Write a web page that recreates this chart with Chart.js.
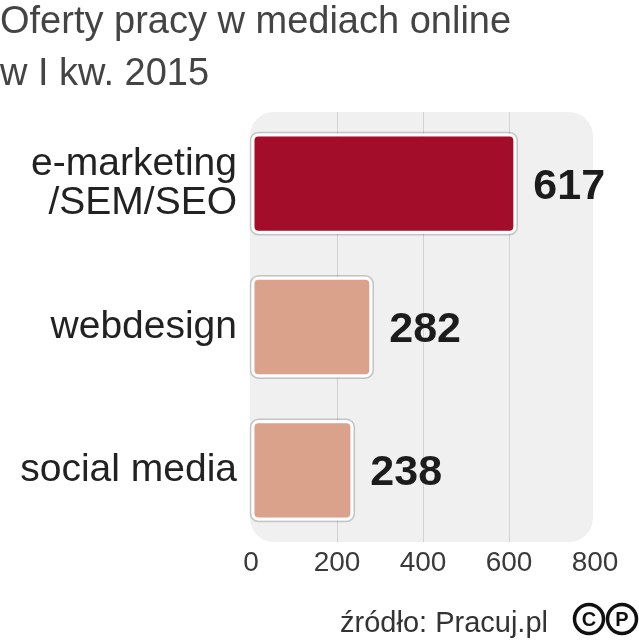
<!DOCTYPE html>
<html>
<head>
<meta charset="utf-8">
<script src="https://cdn.jsdelivr.net/npm/chart.js@4.4.1/dist/chart.umd.min.js"></script>
<style>
  html, body { margin: 0; padding: 0; background: #ffffff; }
  #wrap { width: 639px; height: 640px; position: relative; }
</style>
</head>
<body>
<div id="wrap"><canvas id="chart"></canvas></div>
<script>
// dane z wykresu
const titleLines = ['Oferty pracy w mediach online', 'w I kw. 2015'];
const categories = [['e-marketing', '/SEM/SEO'], 'webdesign', 'social media'];
const values = [617, 282, 238];
const barColors = ['#a30d29', '#dba28b', '#dba28b'];
const xTicks = [0, 200, 400, 600, 800];
const sourceText = 'źródło: Pracuj.pl';

const FONT = "'Liberation Sans', Arial, sans-serif";

// tło obszaru wykresu z zaokrąglonymi rogami
const plotBackground = {
    id: 'plotBackground',
    beforeDraw(chart) {
        const { ctx, chartArea } = chart;
        ctx.save();
        ctx.fillStyle = '#f0f0f0';
        ctx.beginPath();
        ctx.roundRect(chartArea.left - 1, chartArea.top, chartArea.right - chartArea.left - 1, chartArea.bottom - chartArea.top, 24);
        ctx.fill();
        ctx.restore();
    }
};

// cienka szara obwódka pod słupkami + wartości
const barOutline = {
    id: 'barOutline',
    beforeDatasetsDraw(chart) {
        const { ctx } = chart;
        const meta = chart.getDatasetMeta(0);
        ctx.save();
        ctx.strokeStyle = 'rgba(0,0,0,0.18)';
        ctx.lineWidth = 1.5;
        meta.data.forEach(bar => {
            const p = bar.getProps(['x', 'y', 'base', 'height'], true);
            ctx.beginPath();
            ctx.roundRect(p.base - 1, p.y - p.height / 2 - 1, p.x - p.base + 2, p.height + 2, 8);
            ctx.stroke();
        });
        ctx.restore();
    },
    afterDatasetsDraw(chart) {
        const { ctx } = chart;
        const meta = chart.getDatasetMeta(0);
        ctx.save();
        ctx.fillStyle = '#1c1c1c';
        ctx.font = 'bold 43px ' + FONT;
        ctx.textAlign = 'left';
        ctx.textBaseline = 'middle';
        meta.data.forEach((bar, i) => {
            const p = bar.getProps(['x', 'y'], true);
            ctx.fillText(String(values[i]), p.x + 17, p.y + 3);
        });
        ctx.restore();
    }
};

// tytuł, źródło i znak copyright
const textDecor = {
    id: 'textDecor',
    afterDraw(chart) {
        const { ctx } = chart;
        ctx.save();
        ctx.fillStyle = '#444444';
        ctx.font = '38px ' + FONT;
        ctx.textAlign = 'left';
        ctx.textBaseline = 'alphabetic';
        ctx.fillText(titleLines[0], 0, 33);
        ctx.fillText(titleLines[1], 0, 85);

        ctx.font = '29px ' + FONT;
        ctx.fillStyle = '#333333';
        ctx.textAlign = 'right';
        ctx.fillText(sourceText, 548, 632);

        ctx.strokeStyle = '#111111';
        ctx.fillStyle = '#111111';
        ctx.lineWidth = 3.5;
        [[589, 'C'], [622, 'P']].forEach(([cx, letter]) => {
            ctx.beginPath();
            ctx.arc(cx, 619, 14.5, 0, Math.PI * 2);
            ctx.stroke();
            ctx.font = 'bold 20px ' + FONT;
            ctx.textAlign = 'center';
            ctx.textBaseline = 'middle';
            ctx.fillText(letter, cx, 620);
        });
        ctx.restore();
    }
};

new Chart(document.getElementById('chart'), {
    type: 'bar',
    data: {
        labels: categories,
        datasets: [{
            data: values,
            backgroundColor: barColors,
            borderColor: '#ffffff',
            borderWidth: 3,
            borderRadius: 7,
            borderSkipped: false,
            barPercentage: 0.7,
            categoryPercentage: 1.0
        }]
    },
    options: {
        indexAxis: 'y',
        responsive: true,
        maintainAspectRatio: false,
        animation: false,
        layout: { padding: { top: 112, right: 44, left: 0, bottom: 0 } },
        plugins: {
            legend: { display: false },
            tooltip: { enabled: false }
        },
        scales: {
            x: {
                min: xTicks[0],
                max: xTicks[xTicks.length - 1],
                afterFit: s => { s.height = 98; },
                afterBuildTicks: s => { s.ticks = xTicks.map(v => ({ value: v })); },
                border: { display: false },
                grid: {
                    drawTicks: false,
                    lineWidth: 1,
                    color: c => (c.tick && (c.tick.value === xTicks[0] || c.tick.value === xTicks[xTicks.length - 1])) ? 'rgba(0,0,0,0)' : '#d2d2d2'
                },
                ticks: {
                    color: '#3a3a3a',
                    padding: 4,
                    font: { family: FONT, size: 28 }
                }
            },
            y: {
                afterFit: s => { s.width = 251; },
                border: { display: false },
                grid: { display: false, drawTicks: false },
                ticks: {
                    color: '#222222',
                    padding: 14,
                    font: { family: FONT, size: 39, lineHeight: 1.0 }
                }
            }
        }
    },
    plugins: [plotBackground, barOutline, textDecor]
});
</script>
</body>
</html>
